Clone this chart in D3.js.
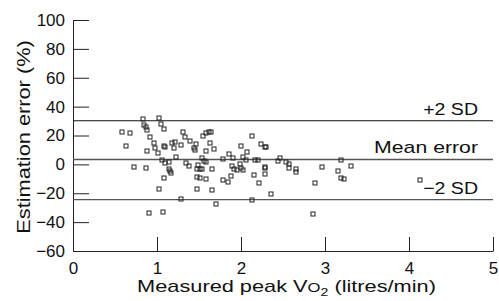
<!DOCTYPE html>
<html>
<head>
<meta charset="utf-8">
<script src="https://cdn.jsdelivr.net/npm/d3@7"></script>
<style>
  body { margin: 0; background: #fff; }
  svg { display: block; font-family: "Liberation Sans", Arial, sans-serif; }
  .axis path, .axis line { stroke: #222; }
  .axis text { font-size: 17px; fill: #111; font-family: "Liberation Sans", Arial, sans-serif; }
</style>
</head>
<body>
<div id="chart"></div>
<script>
// measured peak VO2 (litres/min) and estimation error (%) for each subject
const vo2 = [0.58,0.68,0.63,0.73,0.87,0.83,0.85,0.87,0.88,0.92,0.96,0.88,0.98,1.01,1.02,1.05,1.08,1.08,1.10,1.06,
  1.10,1.14,1.14,1.15,1.17,1.08,1.02,0.90,1.07,1.18,1.21,1.20,1.23,1.29,1.29,1.31,1.33,1.39,1.34,1.38,
  1.44,1.45,1.47,1.55,1.58,1.62,1.64,1.63,1.68,1.58,1.54,1.56,1.58,1.49,1.48,1.51,1.54,1.65,1.48,1.51,
  1.58,1.48,1.66,1.70,1.79,1.79,1.86,1.90,1.89,1.92,1.95,1.99,2.00,2.02,2.02,2.07,2.06,2.00,2.13,2.24,
  2.28,2.30,2.17,2.20,2.28,2.29,2.28,2.15,2.21,1.84,1.88,2.13,2.36,2.44,2.46,2.54,2.57,2.57,2.65,2.65,
  2.88,2.96,2.86,3.19,3.31,3.16,3.19,3.23,4.13];
const errPct = [22.6,21.4,12.4,-2.1,-2.8,31.1,27.6,26.0,23.5,19.1,14.7,9.0,11.3,8.1,32.3,28.3,24.2,12.6,11.9,3.0,
  0.7,1.6,-3.5,-4.8,-5.7,-9.5,-17.1,-34.0,-32.7,15.0,15.4,11.5,5.0,13.6,-24.0,22.6,19.1,15.9,1.2,-0.9,
  11.5,9.9,14.3,19.5,21.9,22.3,22.3,15.0,10.8,9.0,4.1,2.6,1.6,-0.2,-3.0,-3.5,-3.0,-3.0,-8.5,-9.5,
  -9.9,-16.8,-18.0,-27.6,3.5,-10.6,7.4,4.6,-0.9,-3.0,-4.1,0.5,-2.3,-3.9,5.0,8.8,3.0,12.9,19.5,14.3,
  12.2,12.2,3.2,3.2,-1.9,-2.3,-6.4,-7.1,-12.6,-11.9,-8.1,-24.4,-20.7,2.6,4.6,1.4,0.5,-2.3,-3.0,-5.0,
  -12.6,-2.1,-34.7,3.0,-0.9,-4.4,-9.2,-10.4,-11.0];

// reference lines
const refNames = ["+2 SD", "Mean error", "\u22122 SD"];
const refValues = [30.2, 3.4, -24.4];

const xTicks = [0, 1, 2, 3, 4, 5];
const yTicks = [-60, -40, -20, 0, 20, 40, 60, 80, 100];

const width = 499, height = 301;
const svg = d3.select("#chart").append("svg")
  .attr("width", width).attr("height", height);

const x = d3.scaleLinear().domain([0, 5]).range([73, 493]);
const y = d3.scaleLinear().domain([-60, 100]).range([251, 20]);

// axes, ticks pointing inside
svg.append("g")
  .attr("class", "axis")
  .attr("transform", "translate(0,251)")
  .call(d3.axisBottom(x).tickValues(xTicks).tickFormat(d3.format("d"))
    .tickSize(-14).tickSizeOuter(0).tickPadding(11));

svg.append("g")
  .attr("class", "axis")
  .attr("transform", "translate(73,0)")
  .call(d3.axisLeft(y).tickValues(yTicks)
    .tickSize(-16).tickSizeOuter(0).tickPadding(8));

// mean and +/-2 SD lines
svg.selectAll(".ref")
  .data(refValues)
  .join("line")
  .attr("class", "ref")
  .attr("x1", x(0)).attr("x2", x(5))
  .attr("y1", d => y(d)).attr("y2", d => y(d))
  .attr("stroke", (d, i) => i === 0 ? "#111" : "#555")
  .attr("stroke-width", (d, i) => i === 0 ? 1.1 : 1.4);

// labels sit just above each line, right aligned
const labelScale = [1.15, 1.25, 1.15];
svg.selectAll(".reflabel")
  .data(refNames)
  .join("text")
  .attr("class", "reflabel")
  .attr("transform", (d, i) => `translate(478,${y(refValues[i]) - 6}) scale(${labelScale[i]},1)`)
  .attr("text-anchor", "end")
  .attr("font-size", 17)
  .attr("fill", "#111")
  .text(d => d);

// points
const pts = vo2.map((v, i) => ({ v: v, e: errPct[i] }));
svg.append("g")
  .selectAll("rect")
  .data(pts)
  .join("rect")
  .attr("x", d => Math.round(x(d.v)) - 2)
  .attr("y", d => Math.round(y(d.e)) - 2)
  .attr("width", 4).attr("height", 4)
  .attr("fill", "none")
  .attr("stroke", "#222")
  .attr("stroke-width", 1);

// axis titles
svg.append("text")
  .attr("transform", "translate(30,137) rotate(-90) scale(1.21,1)")
  .attr("text-anchor", "middle")
  .attr("font-size", 18)
  .attr("fill", "#111")
  .text("Estimation error (%)");

const xt = svg.append("text")
  .attr("transform", "translate(286.5,292) scale(1.28,1)")
  .attr("text-anchor", "middle")
  .attr("font-size", 17)
  .attr("fill", "#111");
xt.append("tspan").text("Measured peak V");
xt.append("tspan").attr("font-size", 13).text("O");
xt.append("tspan").attr("font-size", 11).attr("dy", 4).text("2");
xt.append("tspan").attr("dy", -4).text(" (litres/min)");
</script>
</body>
</html>
